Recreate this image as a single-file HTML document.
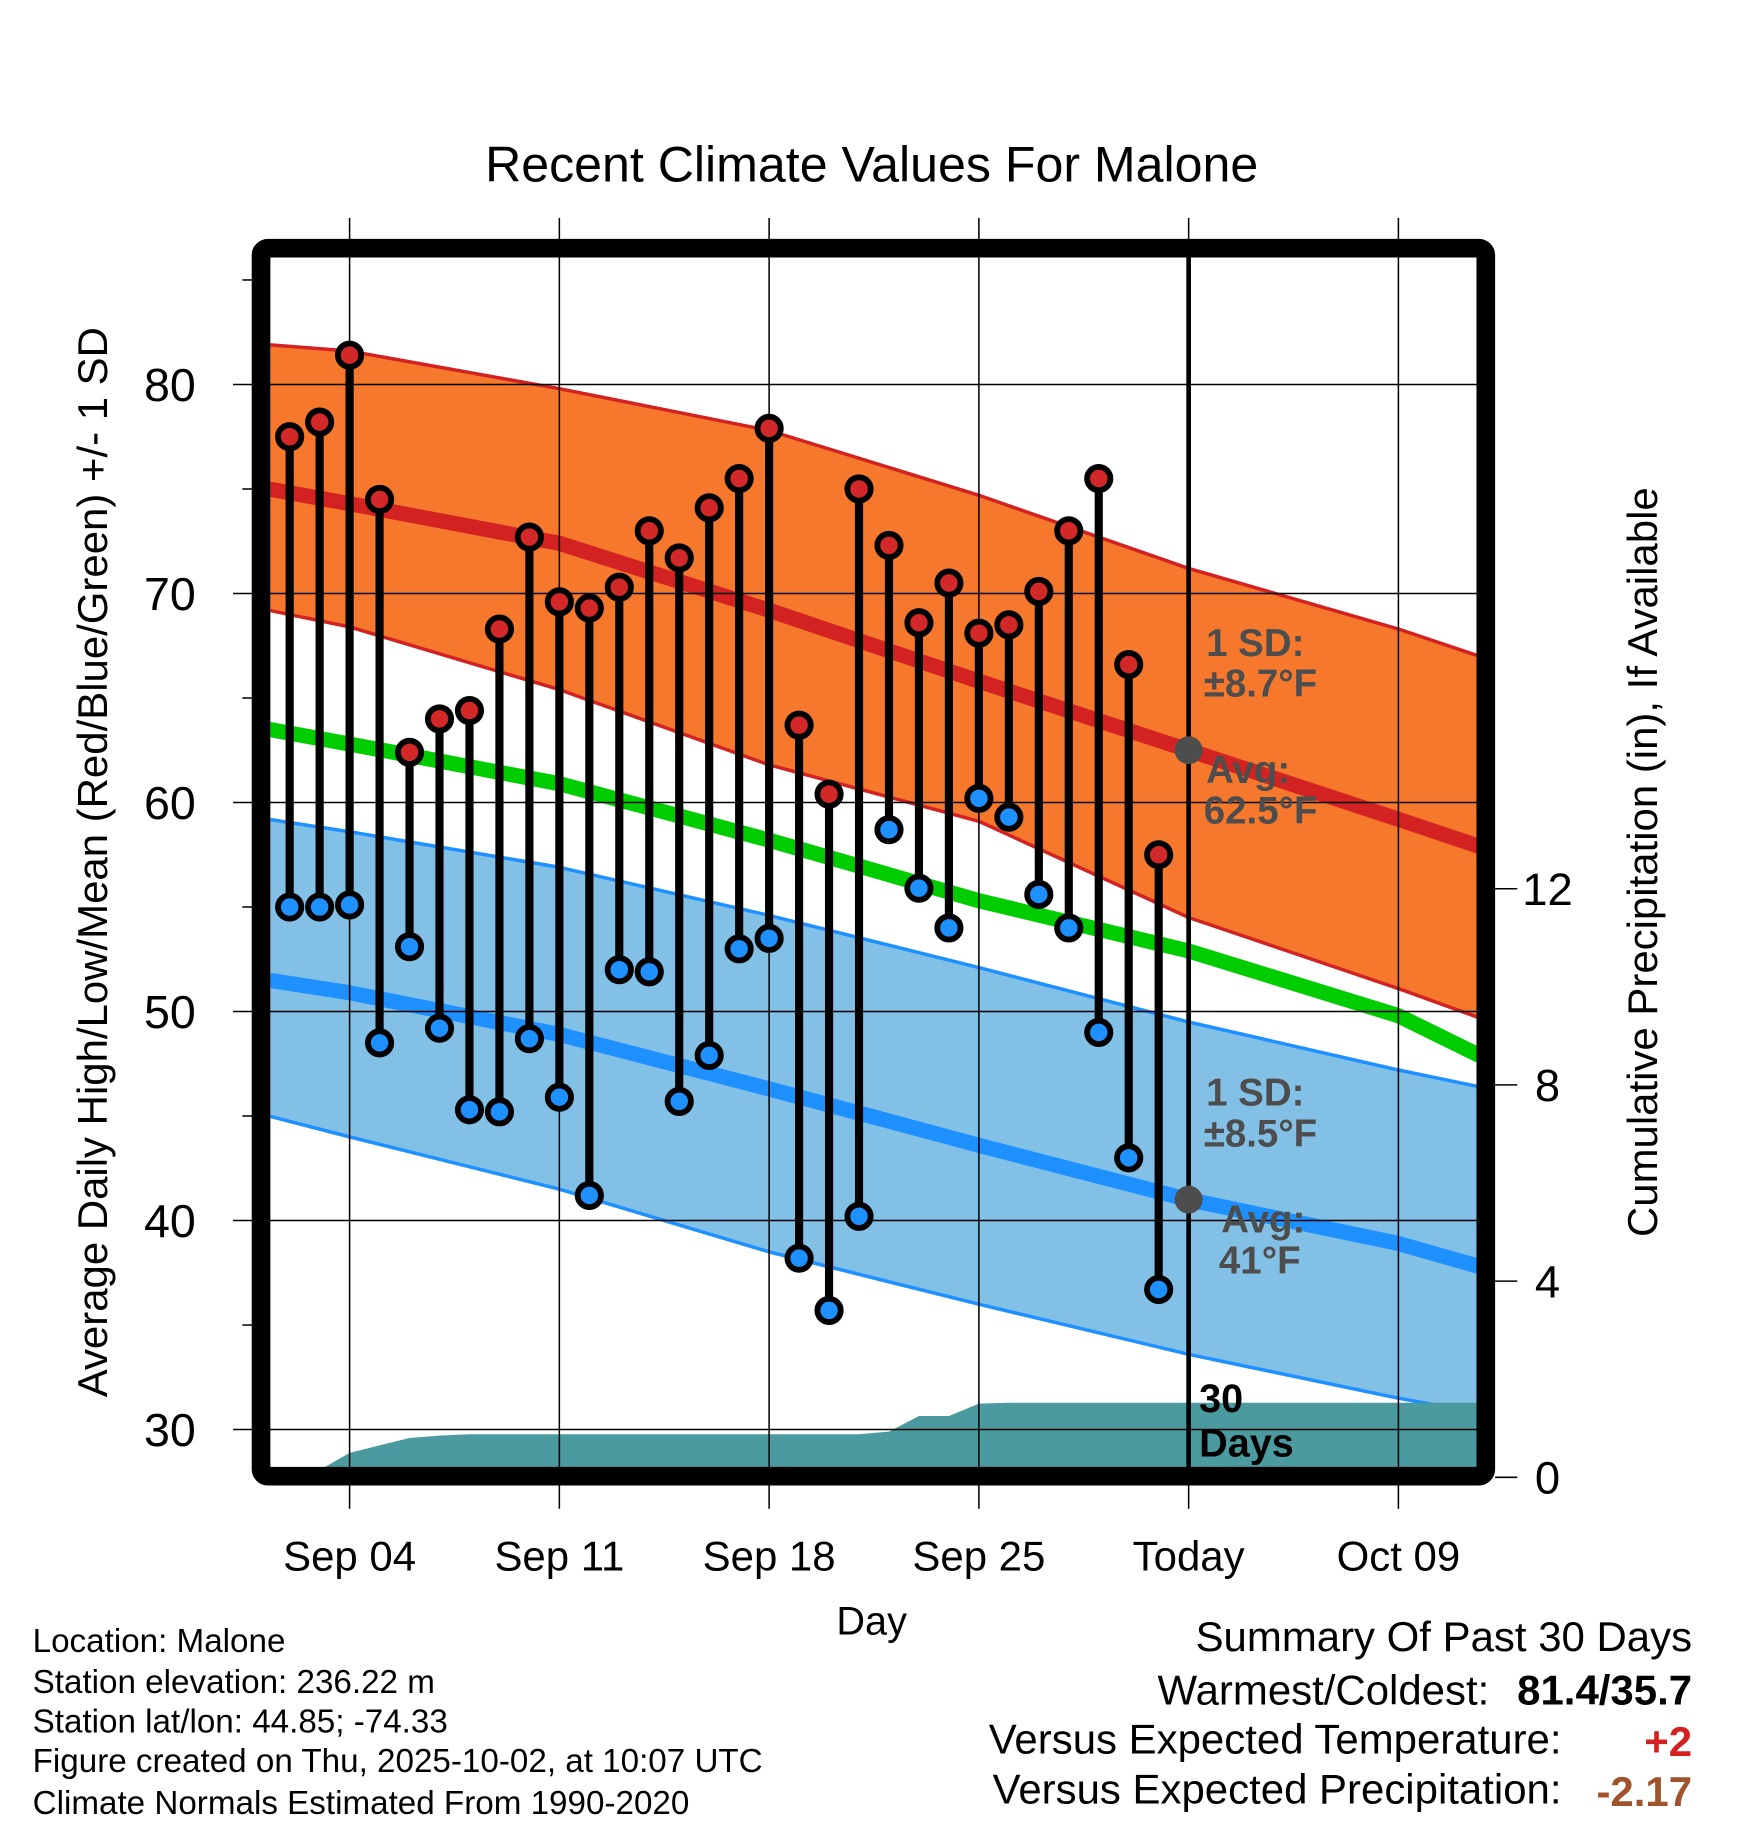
<!DOCTYPE html>
<html><head><meta charset="utf-8"><style>
html,body{margin:0;padding:0;background:#fff}
svg{display:block}
text{font-family:"Liberation Sans",Arial,sans-serif}
</style></head><body>
<svg id="chart" width="1748" height="1828" viewBox="0 0 1500 1569" preserveAspectRatio="none" xmlns="http://www.w3.org/2000/svg">
<defs><clipPath id="pc"><rect x="232" y="220" width="1036" height="1040"/></clipPath></defs>
<g id="bands" clip-path="url(#pc)"></g>
<g id="grid"></g>
<g id="marks" clip-path="url(#pc)"></g>
<rect x="224" y="213" width="1051" height="1054" rx="6" fill="none" stroke="#000" stroke-width="16"/>
<g id="labels"></g>
<text x="748" y="156" font-size="43" text-anchor="middle">Recent Climate Values For Malone</text>
<text transform="translate(92,740) rotate(-90)" font-size="36" text-anchor="middle">Average Daily High/Low/Mean (Red/Blue/Green) +/- 1 SD</text>
<text transform="translate(1422,740) rotate(-90)" font-size="36" text-anchor="middle">Cumulative Precipitation (in), If Available</text>
<text x="748" y="1403" font-size="34" text-anchor="middle">Day</text>
<g font-size="28.5">
<text x="28" y="1418">Location: Malone</text>
<text x="28" y="1453">Station elevation: 236.22 m</text>
<text x="28" y="1487">Station lat/lon: 44.85; -74.33</text>
<text x="28" y="1521">Figure created on Thu, 2025-10-02, at 10:07 UTC</text>
<text x="28" y="1557">Climate Normals Estimated From 1990-2020</text>
</g>
<g font-size="36" text-anchor="end">
<text x="1452" y="1417">Summary Of Past 30 Days</text>
<text x="1278" y="1463">Warmest/Coldest:</text>
<text x="1452" y="1463" font-weight="bold">81.4/35.7</text>
<text x="1340" y="1505">Versus Expected Temperature:</text>
<text x="1452" y="1507" font-weight="bold" fill="#d42020">+2</text>
<text x="1340" y="1548">Versus Expected Precipitation:</text>
<text x="1452" y="1550" font-weight="bold" fill="#a0522d">-2.17</text>
</g>
<script>
const days = [2,3,4,5,6,7,8,9,10,11,12,13,14,15,16,17,18,19,20,21,22,23,24,25,26,27,28,29,30,31];
const highs = [77.5,78.2,81.4,74.5,62.4,64.0,64.4,68.3,72.7,69.6,69.3,70.3,73.0,71.7,74.1,75.5,77.9,63.7,60.4,75.0,72.3,68.6,70.5,68.1,68.5,70.1,73.0,75.5,66.6,57.5];
const lows = [55.0,55.0,55.1,48.5,53.1,49.2,45.3,45.2,48.7,45.9,41.2,52.0,51.9,45.7,47.9,53.0,53.5,38.2,35.7,40.2,58.7,55.9,54.0,60.2,59.3,55.6,54.0,49.0,43.0,36.7];
const precip = [0,0.15,0.5,0.65,0.8,0.85,0.88,0.88,0.88,0.88,0.88,0.88,0.88,0.88,0.88,0.88,0.88,0.88,0.88,0.88,0.93,1.25,1.25,1.5,1.52,1.52,1.52,1.52,1.52,1.52];
const normDays = [1.3,4,11,18,25,32,39,41.7];
const normHigh = [75.0,74.3,72.4,69.2,65.8,62.5,59.2,57.9];
const normHighUp = [81.9,81.6,79.8,77.8,74.7,71.2,68.3,67.0];
const normHighLo = [69.2,68.4,65.4,61.8,59.1,54.5,51.1,49.7];
const normMean = [63.5,62.8,60.9,58.2,55.3,52.9,49.8,47.9];
const normLow = [51.5,50.9,48.9,46.3,43.6,41.0,38.9,37.8];
const normLowUp = [59.2,58.6,56.9,54.6,52.1,49.5,47.2,46.4];
const normLowLo = [45.0,44.0,41.5,38.5,36.0,33.6,31.5,30.8];
const xTickDays = [4,11,18,25,32,39];
const xTickLabels = ["Sep 04","Sep 11","Sep 18","Sep 25","Today","Oct 09"];
const yTicks = [30,40,50,60,70,80];
const y2Ticks = [0,4,8,12];

const X = d => 300 + (d-4)*180/7;
const Y = v => 1227 - (v-30)*17.94;
const P = p => 1268 - p*42.1;
const NS = "http://www.w3.org/2000/svg";
function mk(tag, parent, attrs){const e=document.createElementNS(NS,tag);for(const k in attrs)e.setAttribute(k,attrs[k]);document.getElementById(parent).appendChild(e);return e;}
function pts(ds, vs){return ds.map((d,i)=>X(d).toFixed(1)+","+Y(vs[i]).toFixed(1)).join(" ");}
function band(up, lo){return pts(normDays,up)+" "+pts(normDays.slice().reverse(),lo.slice().reverse());}

let e;
e = mk("polygon","bands",{points:band(normHighUp,normHighLo),fill:"#f5782d"});


e = mk("polygon","bands",{points:band(normLowUp,normLowLo),fill:"#82c0e6"});


[[normHighUp,"#d22222",3],[normHighLo,"#d22222",3],[normLowUp,"#1e90ff",3],[normLowLo,"#1e90ff",3],[normHigh,"#d22222",13],[normMean,"#00cc00",13],[normLow,"#1e90ff",13]].forEach(([arr,c,w],i)=>{
  e = mk("polyline","bands",{points:pts(normDays,arr),fill:"none",stroke:c,"stroke-width":w,"stroke-linejoin":"round"});
  
  
});
let pp = X(1).toFixed(1)+","+P(0)+" "+X(1)+","+P(precip[0]);
days.forEach((d,i)=>{pp+=" "+X(d).toFixed(1)+","+P(precip[i]).toFixed(1);});
pp += " 1270,"+P(precip[precip.length-1]).toFixed(1)+" 1270,1270 "+X(1)+",1270";
e = mk("polygon","bands",{points:pp,fill:"#4a9aa0"});



yTicks.forEach(v=>{
  e = mk("line","grid",{x1:200,x2:1268,y1:Y(v),y2:Y(v),stroke:"#000","stroke-width":1.3});
  
  
  e = mk("text","labels",{x:168,y:Y(v)+14,"font-size":40,"text-anchor":"end"});
  e.textContent = v;
  
  
});
[35,45,55,65,75,85].forEach(v=>{
  e = mk("line","grid",{x1:208,x2:217,y1:Y(v),y2:Y(v),stroke:"#000","stroke-width":1.3});
  
  
});
xTickDays.forEach((d,i)=>{
  e = mk("line","grid",{x1:X(d),x2:X(d),y1:187,y2:1295,stroke:"#000","stroke-width":1.3});
  
  
  e = mk("text","labels",{x:X(d),y:1348,"font-size":36,"text-anchor":"middle"});
  e.textContent = xTickLabels[i];
  
  
});
y2Ticks.forEach(p=>{
  e = mk("line","labels",{x1:1283,x2:1302,y1:P(p),y2:P(p),stroke:"#000","stroke-width":1.3});
  
  
  e = mk("text","labels",{x:1328,y:P(p)+14,"font-size":39,"text-anchor":"middle"});
  e.textContent = p;
  
  
});

e = mk("line","marks",{x1:X(32),x2:X(32),y1:220,y2:1262,stroke:"#000","stroke-width":4});



days.forEach((d,i)=>{
  e = mk("line","marks",{x1:X(d),x2:X(d),y1:Y(highs[i]),y2:Y(lows[i]),stroke:"#000","stroke-width":7});
  
  
});
days.forEach((d,i)=>{
  e = mk("circle","marks",{cx:X(d),cy:Y(highs[i]),r:10,fill:"#d22828",stroke:"#000","stroke-width":5});
  
  
  e = mk("circle","marks",{cx:X(d),cy:Y(lows[i]),r:10,fill:"#1e90ff",stroke:"#000","stroke-width":5});
  
  
});
[normHigh,normLow].forEach(arr=>{
  e = mk("circle","marks",{cx:X(32),cy:Y(arr[5]),r:12,fill:"#4d4d4d"});
  
  
});
const ann = [["1 SD:",1035,563],["±8.7°F",1033,598],["Avg:",1035,672],["62.5°F",1033,707],["1 SD:",1035,949],["±8.5°F",1033,984],["Avg:",1048,1058],["41°F",1046,1093]];
ann.forEach(a=>{
  e = mk("text","labels",{x:a[1],y:a[2],"font-size":33,"font-weight":"bold",fill:"#4d4d4d"});
  e.textContent = a[0];
  
  
});
[["30",1212],["Days",1250]].forEach(a=>{
  e = mk("text","labels",{x:1029,y:a[1],"font-size":34,"font-weight":"bold"});
  e.textContent = a[0];
  
  
});
</script>
</svg>
</body></html>
